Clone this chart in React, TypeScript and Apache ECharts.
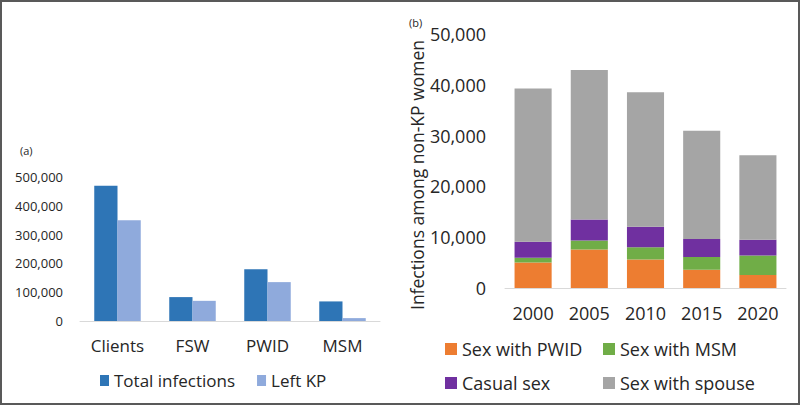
import React, { useEffect, useRef } from "react";
import * as echarts from "echarts";

const categoriesA = ["Clients", "FSW", "PWID", "MSM"];
const totalInfections = [470000, 83000, 180000, 68000];
const leftKP = [350000, 70000, 135000, 10000];

const years = ["2000", "2005", "2010", "2015", "2020"];
const sexWithPWID = [5000, 7600, 5600, 3600, 2550];
const sexWithMSM = [950, 1750, 2400, 2500, 3850];
const casualSex = [3150, 4150, 4050, 3550, 3100];
const sexWithSpouse = [30150, 29400, 26500, 21300, 16650];

const FONT = "'Open Sans', 'Noto Sans', sans-serif";
const TXT = "#262626";
const fmt = (v: number) => v.toLocaleString("en-US");

export default function App() {
  const ref = useRef<HTMLDivElement>(null);
  useEffect(() => {
    document.body.style.margin = "0";
    const chart = echarts.init(ref.current!, undefined, { renderer: "svg" });
    chart.setOption({
      animation: false,
      backgroundColor: "#ffffff",
      textStyle: { fontFamily: FONT, color: TXT },
      grid: [
        { left: 80, right: 420, top: 177, bottom: 84 },
        { left: 505, right: 14, top: 34, bottom: 117 },
      ],
      xAxis: [
        {
          type: "category",
          gridIndex: 0,
          data: categoriesA,
          axisTick: { show: false },
          axisLine: { lineStyle: { color: "#d9d9d9", width: 1 } },
          axisLabel: { fontSize: 17, color: TXT, margin: 16, fontFamily: FONT },
        },
        {
          type: "category",
          gridIndex: 1,
          data: years,
          axisTick: { show: false },
          axisLine: { lineStyle: { color: "#d9d9d9", width: 1 } },
          axisLabel: { fontSize: 18, color: TXT, margin: 16, fontFamily: FONT },
        },
      ],
      yAxis: [
        {
          type: "value",
          gridIndex: 0,
          min: 0,
          max: 500000,
          interval: 100000,
          splitLine: { show: false },
          axisLine: { show: false },
          axisLabel: { fontSize: 13, color: TXT, margin: 17, formatter: fmt, fontFamily: FONT },
        },
        {
          type: "value",
          gridIndex: 1,
          min: 0,
          max: 50000,
          interval: 10000,
          splitLine: { show: false },
          axisLine: { show: false },
          axisLabel: { fontSize: 18, color: TXT, margin: 19, formatter: fmt, fontFamily: FONT },
        },
      ],
      legend: [
        {
          data: ["Total infections", "Left KP"],
          left: 95,
          top: 367,
          icon: "rect",
          itemWidth: 9,
          itemHeight: 11,
          itemGap: 22,
          textStyle: { fontSize: 17, color: TXT, fontFamily: FONT },
        },
        {
          data: ["Sex with PWID", "Casual sex"],
          orient: "vertical",
          left: 440,
          top: 333,
          icon: "rect",
          itemWidth: 12,
          itemHeight: 12,
          itemGap: 12,
          textStyle: { fontSize: 18, lineHeight: 22, color: TXT, fontFamily: FONT },
        },
        {
          data: ["Sex with MSM", "Sex with spouse"],
          orient: "vertical",
          left: 598,
          top: 333,
          icon: "rect",
          itemWidth: 12,
          itemHeight: 12,
          itemGap: 12,
          textStyle: { fontSize: 18, lineHeight: 22, color: TXT, fontFamily: FONT },
        },
      ],
      series: [
        {
          name: "Total infections",
          type: "bar",
          xAxisIndex: 0,
          yAxisIndex: 0,
          data: totalInfections,
          itemStyle: { color: "#2E75B6" },
          barGap: "0%",
          barCategoryGap: "38%",
        },
        {
          name: "Left KP",
          type: "bar",
          xAxisIndex: 0,
          yAxisIndex: 0,
          data: leftKP,
          itemStyle: { color: "#8FAADC" },
          barGap: "0%",
          barCategoryGap: "38%",
        },
        {
          name: "Sex with PWID",
          type: "bar",
          stack: "b",
          xAxisIndex: 1,
          yAxisIndex: 1,
          data: sexWithPWID,
          itemStyle: { color: "#ED7D31" },
          barCategoryGap: "34%",
        },
        {
          name: "Sex with MSM",
          type: "bar",
          stack: "b",
          xAxisIndex: 1,
          yAxisIndex: 1,
          data: sexWithMSM,
          itemStyle: { color: "#70AD47" },
          barCategoryGap: "34%",
        },
        {
          name: "Casual sex",
          type: "bar",
          stack: "b",
          xAxisIndex: 1,
          yAxisIndex: 1,
          data: casualSex,
          itemStyle: { color: "#7030A0" },
          barCategoryGap: "34%",
        },
        {
          name: "Sex with spouse",
          type: "bar",
          stack: "b",
          xAxisIndex: 1,
          yAxisIndex: 1,
          data: sexWithSpouse,
          itemStyle: { color: "#A5A5A5" },
          barCategoryGap: "34%",
        },
      ],
      graphic: [
        {
          type: "rect",
          shape: { x: 1, y: 1, width: 798, height: 403 },
          style: { fill: "none", stroke: "#595959", lineWidth: 2 },
          silent: true,
          z: 100,
        },
        {
          type: "text",
          x: 20,
          y: 150,
          style: { text: "(a)", fontSize: 11, fill: TXT, fontFamily: FONT, verticalAlign: "middle" },
        },
        {
          type: "text",
          x: 409,
          y: 22,
          style: { text: "(b)", fontSize: 11, fill: TXT, fontFamily: FONT, verticalAlign: "middle" },
        },
        {
          type: "text",
          x: 417,
          y: 175,
          rotation: Math.PI / 2,
          style: {
            text: "Infections among non-KP women",
            fontSize: 17.5,
            fill: TXT,
            fontFamily: FONT,
            align: "center",
            verticalAlign: "middle",
          },
        },
      ],
    });
    return () => chart.dispose();
  }, []);
  return <div ref={ref} style={{ width: 800, height: 405 }} />;
}
